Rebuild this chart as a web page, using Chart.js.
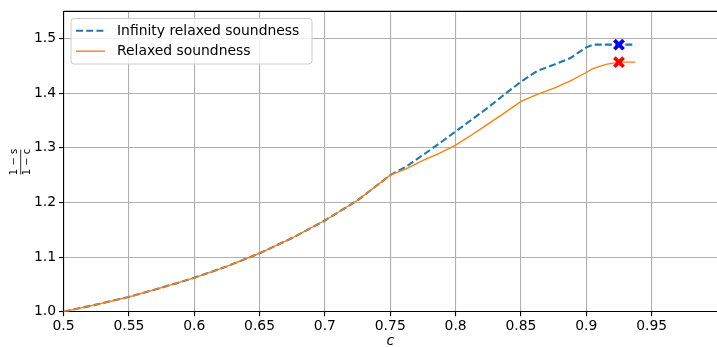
<!DOCTYPE html>
<html>
<head>
<meta charset="utf-8">
<script src="https://cdn.jsdelivr.net/npm/chart.js@4"></script>
<style>
  html, body { margin: 0; padding: 0; background: #fff; }
  canvas { display: block; }
</style>
</head>
<body>
<canvas id="soundnessChart" width="717" height="347"></canvas>
<script>
// values
const cValues = [0.5, 0.525, 0.55, 0.575, 0.6, 0.625, 0.65, 0.675, 0.7, 0.725, 0.75,
    0.7625, 0.775, 0.7875, 0.8, 0.8125, 0.825, 0.8375, 0.85, 0.8625, 0.875, 0.8875,
    0.9, 0.905, 0.915, 0.925, 0.9375];

const infinityRelaxed = [1.000, 1.013, 1.027, 1.044, 1.062, 1.083, 1.107, 1.135, 1.167, 1.204, 1.250,
    1.266, 1.287, 1.308, 1.330, 1.352, 1.374, 1.398, 1.421, 1.441, 1.452, 1.464,
    1.484, 1.489, 1.489, 1.489, 1.489];

const relaxed = [1.000, 1.013, 1.027, 1.044, 1.062, 1.083, 1.107, 1.135, 1.167, 1.204, 1.250,
    1.262, 1.277, 1.290, 1.305, 1.324, 1.344, 1.364, 1.385, 1.398, 1.409, 1.422,
    1.438, 1.445, 1.453, 1.457, 1.457];

const bestC = 0.925;
const bestInfinity = 1.489;
const bestRelaxed = 1.457;

const xTicks = [0.5, 0.55, 0.6, 0.65, 0.7, 0.75, 0.8, 0.85, 0.9, 0.95];
const xTickLabels = ["0.5", "0.55", "0.6", "0.65", "0.7", "0.75", "0.8", "0.85", "0.9", "0.95"];
const yTicks = [1.0, 1.1, 1.2, 1.3, 1.4, 1.5];
const yTickLabels = ["1.0", "1.1", "1.2", "1.3", "1.4", "1.5"];

const FONT = "'DejaVu Sans', sans-serif";

function toPoints(xs, ys) {
    return xs.map((x, i) => ({ x: x, y: ys[i] }));
}

function labelFor(ticks, labels, value) {
    const i = ticks.findIndex(t => Math.abs(t - value) < 1e-9);
    return i >= 0 ? labels[i] : "";
}

// matplotlib-like frame, legend and y label
const decorations = {
    id: "decorations",
    afterDraw(chart) {
        const ctx = chart.ctx;
        const area = chart.chartArea;

        // top spine
        ctx.save();
        ctx.strokeStyle = "#000";
        ctx.lineWidth = 1.1;
        ctx.beginPath();
        ctx.moveTo(area.left, area.top);
        ctx.lineTo(area.right, area.top);
        ctx.stroke();
        ctx.restore();

        // legend box
        const entries = chart.data.datasets.filter(d => d.inLegend);
        ctx.save();
        ctx.beginPath();
        ctx.roundRect(71, 18.5, 241, 45.5, 3);
        ctx.fillStyle = "rgba(255,255,255,0.8)";
        ctx.fill();
        ctx.strokeStyle = "#cccccc";
        ctx.lineWidth = 1;
        ctx.stroke();
        entries.forEach((d, i) => {
            const y = 30.7 + i * 20.5;
            ctx.beginPath();
            ctx.setLineDash(d.borderDash || []);
            ctx.strokeStyle = d.borderColor;
            ctx.lineWidth = d.borderWidth;
            ctx.moveTo(76, y);
            ctx.lineTo(105, y);
            ctx.stroke();
            ctx.setLineDash([]);
            ctx.fillStyle = "#000";
            ctx.font = "13.9px " + FONT;
            ctx.textBaseline = "middle";
            ctx.textAlign = "left";
            ctx.fillText(d.label, 117, y + 0.5);
        });
        ctx.restore();

        // y label: (1 - s) / (1 - c)
        ctx.save();
        ctx.translate(20.7, 162);
        ctx.rotate(-Math.PI / 2);
        ctx.fillStyle = "#000";
        ctx.font = "10px " + FONT;
        ctx.textAlign = "center";
        ctx.textBaseline = "middle";
        ctx.fillText("1 \u2212 s", 0, -6.5);
        ctx.fillText("1 \u2212 c", 0, 7);
        ctx.strokeStyle = "#000";
        ctx.lineWidth = 0.8;
        ctx.beginPath();
        ctx.moveTo(-12.5, 0);
        ctx.lineTo(12.5, 0);
        ctx.stroke();
        ctx.restore();
    }
};

new Chart(document.getElementById("soundnessChart"), {
    type: "line",
    data: {
        datasets: [
            {
                label: "Infinity relaxed soundness",
                data: toPoints(cValues, infinityRelaxed),
                borderColor: "#1f77b4",
                borderWidth: 2.1,
                borderDash: [7, 3.2],
                pointRadius: 0,
                tension: 0,
                order: 2,
                inLegend: true
            },
            {
                label: "Relaxed soundness",
                data: toPoints(cValues, relaxed),
                borderColor: "#ff7f0e",
                borderWidth: 1.4,
                pointRadius: 0,
                tension: 0,
                order: 1,
                inLegend: true
            },
            {
                label: "best infinity",
                data: [{ x: bestC, y: bestInfinity }],
                showLine: false,
                pointStyle: "crossRot",
                pointRadius: 6.5,
                pointBorderWidth: 3.8,
                pointBorderColor: "blue",
                borderColor: "blue",
                order: 0
            },
            {
                label: "best relaxed",
                data: [{ x: bestC, y: bestRelaxed }],
                showLine: false,
                pointStyle: "crossRot",
                pointRadius: 6.5,
                pointBorderWidth: 3.8,
                pointBorderColor: "red",
                borderColor: "red",
                order: 0
            }
        ]
    },
    options: {
        responsive: false,
        animation: false,
        devicePixelRatio: 1,
        layout: { autoPadding: false, padding: { top: 10.5, right: 0, left: 0, bottom: 0 } },
        plugins: {
            legend: { display: false },
            tooltip: { enabled: false }
        },
        scales: {
            x: {
                type: "linear",
                min: 0.5,
                max: 1.0,
                afterFit: scale => { scale.height = 35.3; },
                afterBuildTicks: scale => { scale.ticks = xTicks.map(v => ({ value: v })); },
                grid: {
                    color: "#b0b0b0",
                    lineWidth: 1.1,
                    tickColor: "#000",
                    tickLength: 4.5
                },
                border: { color: "#000", width: 1.1 },
                ticks: {
                    color: "#000",
                    font: { family: FONT, size: 13.9 },
                    padding: 2,
                    maxRotation: 0,
                    autoSkip: false,
                    callback: value => labelFor(xTicks, xTickLabels, value)
                },
                title: {
                    display: true,
                    text: "c",
                    color: "#000",
                    font: { family: FONT, size: 13.9, style: "italic" },
                    padding: { top: 0, bottom: -2.5 }
                }
            },
            y: {
                type: "linear",
                min: 1.0,
                max: 1.55,
                afterFit: scale => { scale.width = 63.5; },
                afterBuildTicks: scale => { scale.ticks = yTicks.map(v => ({ value: v })); },
                grid: {
                    color: "#b0b0b0",
                    lineWidth: 1.1,
                    tickColor: "#000",
                    tickLength: 4.5
                },
                border: { color: "#000", width: 1.1 },
                ticks: {
                    color: "#000",
                    font: { family: FONT, size: 13.9 },
                    padding: 3,
                    autoSkip: false,
                    callback: value => labelFor(yTicks, yTickLabels, value)
                }
            }
        }
    },
    plugins: [decorations]
});
</script>
</body>
</html>
